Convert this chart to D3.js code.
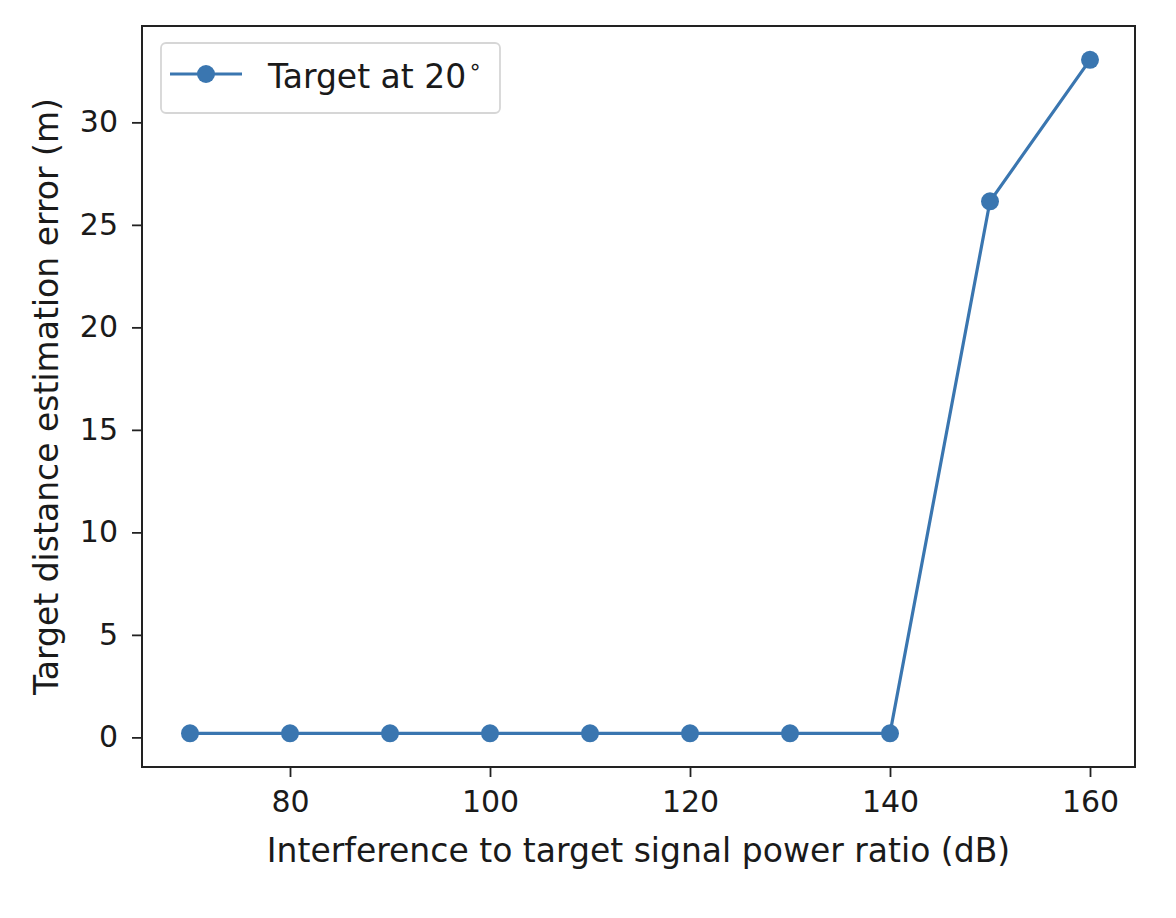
<!DOCTYPE html>
<html>
<head>
<meta charset="utf-8">
<title>Target distance estimation error</title>
<script src="https://d3js.org/d3.v7.min.js"></script>
<style>
  body { margin: 0; background: #fff; }
  text { font-family: "DejaVu Sans", sans-serif; fill: #1a1a1a; }
</style>
</head>
<body>
<script>
const ratioDb = [70, 80, 90, 100, 110, 120, 130, 140, 150, 160];
const errorM = [0.2, 0.2, 0.2, 0.2, 0.2, 0.2, 0.2, 0.2, 26.15, 33.05];
const xTicks = [80, 100, 120, 140, 160];
const yTicks = [0, 5, 10, 15, 20, 25, 30];
const seriesName = "Target at 20";

const width = 1176, height = 918;
const margin = {left: 142, right: 41, top: 26, bottom: 151};
const color = "#3a76b0";

const svg = d3.select("body").append("svg")
    .attr("width", width)
    .attr("height", height);

const x = d3.scaleLinear()
    .domain([65.2, 164.5])
    .range([margin.left, width - margin.right]);

const y = d3.scaleLinear()
    .domain([-1.445, 34.7])
    .range([height - margin.bottom, margin.top]);

// axes
const xAxis = svg.append("g")
    .attr("transform", `translate(0,${height - margin.bottom})`)
    .call(d3.axisBottom(x).tickValues(xTicks).tickSize(10).tickPadding(14));

const yAxis = svg.append("g")
    .attr("transform", `translate(${margin.left},0)`)
    .call(d3.axisLeft(y).tickValues(yTicks).tickSize(10).tickPadding(14));

[xAxis, yAxis].forEach(ax => {
    ax.select(".domain").remove();
    ax.selectAll(".tick line").attr("stroke", "#222").attr("stroke-width", 1.8);
    ax.selectAll(".tick text").attr("font-size", 30).attr("fill", "#1a1a1a")
      .style("font-family", "'DejaVu Sans', sans-serif");
});

// frame
svg.append("rect")
    .attr("x", margin.left)
    .attr("y", margin.top)
    .attr("width", width - margin.left - margin.right)
    .attr("height", height - margin.top - margin.bottom)
    .attr("fill", "none")
    .attr("stroke", "#222")
    .attr("stroke-width", 2);

// series
const pts = ratioDb.map((d, i) => [d, errorM[i]]);
svg.append("path")
    .datum(pts)
    .attr("fill", "none")
    .attr("stroke", color)
    .attr("stroke-width", 3.2)
    .attr("d", d3.line().x(d => x(d[0])).y(d => y(d[1])));

svg.append("g").selectAll("circle")
    .data(pts)
    .enter().append("circle")
    .attr("cx", d => x(d[0]))
    .attr("cy", d => y(d[1]))
    .attr("r", 9)
    .attr("fill", color);

// axis labels
svg.append("text")
    .attr("x", (margin.left + width - margin.right) / 2)
    .attr("y", 862)
    .attr("text-anchor", "middle")
    .attr("font-size", 33)
    .text("Interference to target signal power ratio (dB)");

svg.append("text")
    .attr("transform", `translate(58,${(margin.top + height - margin.bottom) / 2}) rotate(-90)`)
    .attr("text-anchor", "middle")
    .attr("font-size", 33)
    .text("Target distance estimation error (m)");

// legend
const legend = svg.append("g");
legend.append("rect")
    .attr("x", 161).attr("y", 43)
    .attr("width", 339).attr("height", 70)
    .attr("rx", 5)
    .attr("fill", "#fff")
    .attr("stroke", "#d6d6d6")
    .attr("stroke-width", 1.8);
legend.append("line")
    .attr("x1", 170).attr("x2", 242)
    .attr("y1", 74).attr("y2", 74)
    .attr("stroke", color).attr("stroke-width", 3.2);
legend.append("circle")
    .attr("cx", 206).attr("cy", 74).attr("r", 9)
    .attr("fill", color);
const lt = legend.append("text")
    .attr("x", 268).attr("y", 88)
    .attr("font-size", 33);
lt.append("tspan").text(seriesName);
lt.append("tspan")
    .attr("font-size", 22)
    .attr("dy", -14)
    .attr("dx", 2)
    .text("\u2218");
</script>
</body>
</html>
